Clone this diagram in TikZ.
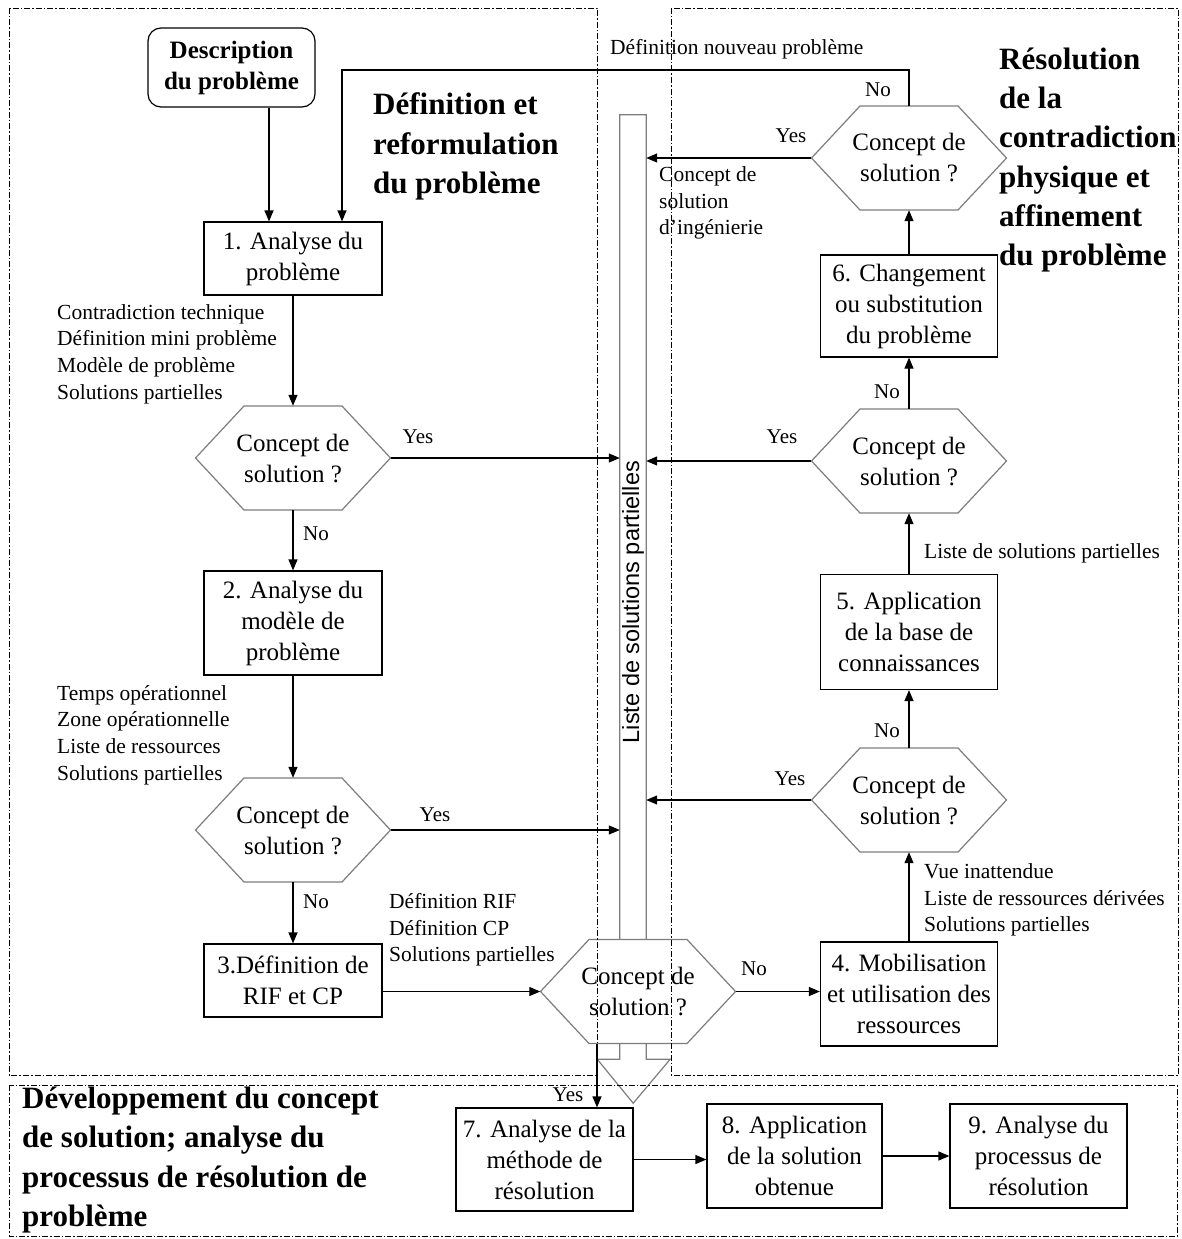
\documentclass[tikz,border=0pt]{standalone}
\usepackage{fontspec}
\setmainfont{Liberation Serif}
\newfontfamily\barfont{Liberation Sans}
\usetikzlibrary{arrows.meta}
\definecolor{hexgray}{RGB}{125,125,125}
\newcommand\hexa[4]{%
  \filldraw[hexline] ({#2-97.5},#3) -- ({#2-49},{#3-52}) -- ({#2+49},{#3-52}) -- ({#2+97.5},#3) -- ({#2+49},{#3+52}) -- ({#2-49},{#3+52}) -- cycle;
  \node[hexbox] (#1) at (#2,#3) {#4};}
\begin{document}
\begin{tikzpicture}[x=1pt,y=-1pt,
  every node/.style={inner sep=0pt},
  box/.style={draw, line width=1.2pt, minimum width=178pt, align=center, font=\fontsize{25}{31}\selectfont},
  hexbox/.style={minimum width=195pt, minimum height=104pt, align=center, font=\fontsize{25}{31}\selectfont},
  hexline/.style={draw=hexgray, fill=white, line width=1.2pt},
  barline/.style={draw=hexgray, line width=1.2pt},
  arr/.style={line width=1.2pt, -{Triangle[length=11pt,width=9pt]}},
  lbl/.style={font=\fontsize{21.5}{26.7}\selectfont, align=left},
  yn/.style={font=\fontsize{21}{24}\selectfont},
  ttl/.style={font=\bfseries\fontsize{31}{39.3}\selectfont, align=left},
  frame/.style={line width=0.9pt, dash pattern=on 6pt off 2pt on 1.5pt off 2pt}]
\useasboundingbox (0,0) rectangle (1181,1239);
\fill[white] (0,0) rectangle (1181,1239);

% central bar (list of partial solutions) with block arrow
\node[minimum width=26pt, minimum height=944pt] (bar) at (633,587) {};
\draw[barline] (bar.north west) -- (bar.north east) -- (bar.south east) -- ++(24,0) -- ++(-37,44) -- ++(-36,-44) -- (bar.south west) -- cycle;
\node[rotate=90, font=\barfont\fontsize{23.5}{26}\selectfont] (bartxt) at (633,602) {Liste de solutions partielles};

% hexagons
\hexa{h1}{293}{458}{Concept de\\solution ?}
\hexa{h2}{293}{830}{Concept de\\solution ?}
\hexa{hc}{638}{991.5}{Concept de\\solution ?}
\hexa{r1}{909}{800}{Concept de\\solution ?}
\hexa{r2}{909}{461}{Concept de\\solution ?}
\hexa{r3}{909}{158}{Concept de\\solution ?}

% boxes
\node[box, rounded corners=13pt, minimum width=167pt, minimum height=79pt, font=\bfseries\fontsize{25}{31}\selectfont] (desc) at (231.5,67.5) {Description\\du problème};
\node[box, minimum height=73pt] (b1) at (293,258.5) {1. Analyse du\\problème};
\node[box, minimum height=104pt] (b2) at (293,623) {2. Analyse du\\modèle de\\problème};
\node[box, minimum height=73pt] (b3) at (293,980.5) {3.Définition de\\RIF et CP};
\node[box, minimum width=177pt, minimum height=104pt] (b4) at (909,994) {4. Mobilisation\\et utilisation des\\ressources};
\node[box, minimum width=177pt, minimum height=115pt] (b5) at (909,632) {5. Application\\de la base de\\connaissances};
\node[box, minimum width=177pt, minimum height=102pt] (b6) at (909,306) {6. Changement\\ou substitution\\du problème};
\node[box, minimum width=177pt, minimum height=103pt] (b7) at (544.5,1159.5) {7. Analyse de la\\méthode de\\résolution};
\node[box, minimum width=175pt, minimum height=104pt] (b8) at (794.5,1156) {8. Application\\de la solution\\obtenue};
\node[box, minimum width=177pt, minimum height=104pt] (b9) at (1038.5,1156) {9. Analyse du\\processus de\\résolution};

% titles
\node[ttl, anchor=west] (t1) at (373,146.5) {Définition et\\reformulation\\du problème};
\node[ttl, anchor=west] (t2) at (999,160) {Résolution\\de la\\contradiction\\physique et\\affinement\\du problème};
\node[ttl, anchor=west] (t3) at (22,1160) {Développement du concept\\de solution; analyse du\\processus de résolution de\\problème};

% information labels
\node[lbl, anchor=west] (l1) at (57,354) {Contradiction technique\\Définition mini problème\\Modèle de problème\\Solutions partielles};
\node[lbl, anchor=west] (l2) at (57,735) {Temps opérationnel\\Zone opérationnelle\\Liste de ressources\\Solutions partielles};
\node[lbl, anchor=west] (l3) at (389,930) {Définition RIF\\Définition CP\\Solutions partielles};
\node[lbl, anchor=west] (l4) at (924,900) {Vue inattendue\\Liste de ressources dérivées\\Solutions partielles};
\node[lbl, anchor=west] (l5) at (924,553) {Liste de solutions partielles};
\node[lbl, anchor=west] (l6) at (659,203) {Concept de\\solution\\d’ingénierie};
\node[lbl, anchor=west] (l7) at (610,49) {Définition nouveau problème};

% yes/no labels
\node[yn] (y1) at (418,437) {Yes};
\node[yn] (y2) at (435,815) {Yes};
\node[yn] (y3) at (791,136) {Yes};
\node[yn] (y4) at (782,437) {Yes};
\node[yn] (y5) at (790,779) {Yes};
\node[yn] (y6) at (568,1095) {Yes};
\node[yn] (n1) at (316,534) {No};
\node[yn] (n2) at (316,902) {No};
\node[yn] (n3) at (754,969) {No};
\node[yn] (n4) at (887,731) {No};
\node[yn] (n5) at (887,392) {No};
\node[yn] (n6) at (878,90) {No};

% connectors
\draw[arr] ([xshift=-24]b1.north |- desc.south) -- ([xshift=-24]b1.north);
\coordinate (lp) at (342,70);
\draw[arr] (r3.north) |- (lp) -- ([xshift=49]b1.north);
\draw[arr] (b1) -- (h1);
\draw[arr] (h1) -- (b2);
\draw[arr] (b2) -- (h2);
\draw[arr] (h2) -- (b3);
\draw[arr] (b3.east |- hc.west) -- (hc.west);
\draw[arr] (hc.east) -- (hc.east -| b4.west);
\draw[arr] (b4) -- (r1);
\draw[arr] (r1) -- (b5);
\draw[arr] (b5) -- (r2);
\draw[arr] (r2) -- (b6);
\draw[arr] (b6) -- (r3);
\draw[arr] (h1.east) -- (h1.east -| bar.west);
\draw[arr] (h2.east) -- (h2.east -| bar.west);
\draw[arr] (r3.west) -- (r3.west -| bar.east);
\draw[arr] (r2.west) -- (r2.west -| bar.east);
\draw[arr] (r1.west) -- (r1.west -| bar.east);
\draw[arr] ([xshift=-41]hc.south) -- ([xshift=-41]hc.south |- b7.north);
\draw[arr] (b7.east) -- (b7.east -| b8.west);
\draw[arr] (b8.east) -- (b8.east -| b9.west);

% frames
\draw[frame] (9,8) rectangle (597,1075);
\draw[frame] (671,8) rectangle (1178,1075);
\draw[frame] (9,1085) rectangle (1177,1236);
\end{tikzpicture}
\end{document}
